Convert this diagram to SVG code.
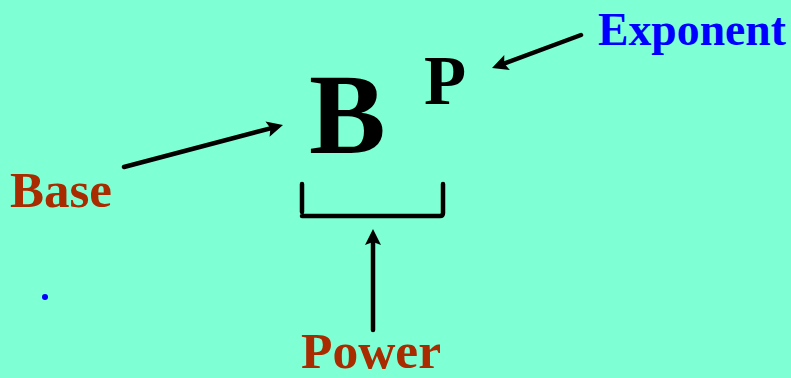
<svg xmlns="http://www.w3.org/2000/svg" width="791" height="378" viewBox="0 0 791 378">
<style>
.t{font-family:"Liberation Serif","Times New Roman",serif;font-weight:bold}
.lbl{fill:#A82C00;font-size:51px}
.ln{stroke:#000;stroke-width:4.5;stroke-linecap:round;fill:none}
</style>
<defs>
<marker id="ah" markerUnits="userSpaceOnUse" markerWidth="18" markerHeight="16" refX="4" refY="8" orient="auto" overflow="visible">
<path d="M0,0 L16,8 L0,16 L3,8 Z" fill="#000"/>
</marker>
</defs>
<rect width="791" height="378" fill="#7FFFD4"/>
<g id="B"><text class="t" x="309" y="153" font-size="115" fill="#000">B</text></g>
<g id="P"><text class="t" x="424" y="104" font-size="69" fill="#000">P</text></g>
<g id="base"><text class="t lbl" x="10" y="207">Base</text></g>
<g id="exponent"><text class="t" x="598" y="45" font-size="47" fill="#0000FF" textLength="188" lengthAdjust="spacingAndGlyphs">Exponent</text></g>
<g id="power"><text class="t lbl" x="301" y="368" font-size="50" textLength="140" lengthAdjust="spacingAndGlyphs">Power</text></g>
<g id="bracket"><path class="ln" stroke-width="4" d="M302,184 V212 M302,216 H440 Q443,216 443,213 V184"/></g>
<g id="dot"><circle cx="45" cy="297" r="3" fill="#0000FF"/></g>
<g id="connectors">
<line class="ln" x1="124" y1="167" x2="271.4" y2="128.1" marker-end="url(#ah)"/>
<line class="ln" x1="581" y1="35" x2="503.3" y2="63.8" marker-end="url(#ah)"/>
<line class="ln" x1="373" y1="330" x2="373" y2="241" marker-end="url(#ah)"/>
</g>
</svg>
